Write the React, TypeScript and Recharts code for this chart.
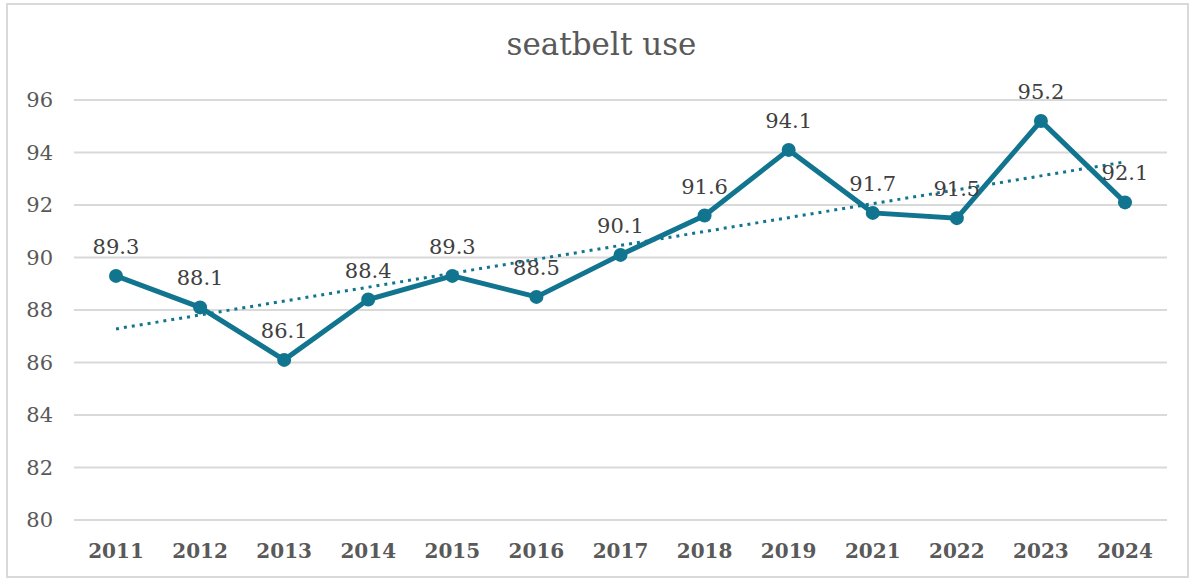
import { LineChart, Line, XAxis, YAxis, CartesianGrid, LabelList, ReferenceLine } from "recharts";

const years = ["2011", "2012", "2013", "2014", "2015", "2016", "2017", "2018", "2019", "2021", "2022", "2023", "2024"];
const seatbeltUse = [89.3, 88.1, 86.1, 88.4, 89.3, 88.5, 90.1, 91.6, 94.1, 91.7, 91.5, 95.2, 92.1];
const yTicks = [80, 82, 84, 86, 88, 90, 92, 94, 96];
// linear trend endpoints
const trendStart = 87.28;
const trendEnd = 93.64;

const data = years.map((year, i) => ({ year, value: seatbeltUse[i] }));

const FONT = "'DejaVu Serif', Georgia, serif";
const LINE_COLOR = "#12758f";

export default function App() {
  return (
    <div style={{ position: "absolute", left: 0, top: 0, width: 1191, height: 580, background: "#fff" }}>
      <div
        style={{
          position: "absolute",
          left: 6,
          top: 3,
          width: 1183,
          height: 575,
          border: "2px solid #d9d9d9",
          boxSizing: "border-box",
        }}
      />
      <div
        style={{
          position: "absolute",
          left: 0,
          top: 26,
          width: 1203,
          textAlign: "center",
          fontFamily: FONT,
          fontSize: 31,
          color: "#595959",
        }}
      >
        seatbelt use
      </div>
      <LineChart
        width={1191}
        height={580}
        data={data}
        margin={{ top: 100, right: 24, left: 14, bottom: 20 }}
        style={{ position: "absolute", left: 0, top: 0 }}
      >
        <CartesianGrid vertical={false} stroke="#d9d9d9" strokeWidth={2} />
        <XAxis
          dataKey="year"
          height={40}
          padding={{ left: 42, right: 42 }}
          axisLine={{ stroke: "#d9d9d9", strokeWidth: 2 }}
          tickLine={false}
          tickSize={0}
          tickMargin={24}
          tick={{ fontFamily: FONT, fontSize: 20, fontWeight: "bold", fill: "#595959" }}
        />
        <YAxis
          width={60}
          domain={[80, 96]}
          ticks={yTicks}
          axisLine={false}
          tickLine={false}
          tickSize={0}
          tickMargin={21}
          tick={{ fontFamily: FONT, fontSize: 21, fill: "#595959" }}
        />
        <ReferenceLine
          segment={[
            { x: years[0], y: trendStart },
            { x: years[years.length - 1], y: trendEnd },
          ]}
          stroke={LINE_COLOR}
          strokeWidth={3}
          strokeDasharray="3 5"
        />
        <Line
          type="linear"
          dataKey="value"
          stroke={LINE_COLOR}
          strokeWidth={5}
          dot={{ r: 7, fill: LINE_COLOR, stroke: LINE_COLOR, strokeWidth: 0 }}
          activeDot={false}
          isAnimationActive={false}
        >
          <LabelList
            dataKey="value"
            position="top"
            offset={22}
            style={{ fontFamily: FONT, fontSize: 21, fill: "#404040" }}
            formatter={(v: number) => v.toFixed(1)}
          />
        </Line>
      </LineChart>
    </div>
  );
}
